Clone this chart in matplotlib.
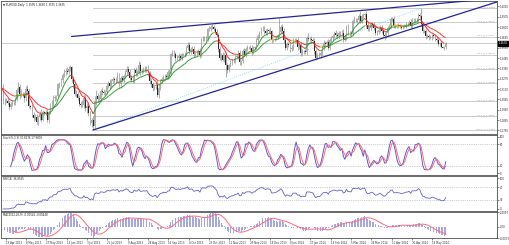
import numpy as np
import pandas as pd
import matplotlib
matplotlib.use('Agg')
import matplotlib.pyplot as plt
from matplotlib.collections import LineCollection

# daily closes, one line per week (EURUSD, 16 Apr 2013 - 30 May 2014)
close = [
    1.3185, 1.3045, 1.3050, 1.3050,
    1.3030, 1.2990, 1.3015, 1.3030, 1.3030,
    1.3070, 1.3165, 1.3190, 1.3125, 1.3115,
    1.3110, 1.3075, 1.3175, 1.3150, 1.2995,
    1.2985, 1.2910, 1.2880, 1.2890, 1.2835,
    1.2885, 1.2915, 1.2860, 1.2935, 1.2930,
    1.2935, 1.2860, 1.2940, 1.2995, 1.2995,
    1.3075, 1.3085, 1.3095, 1.3220, 1.3220,
    1.3260, 1.3315, 1.3340, 1.3350, 1.3345,
    1.3370, 1.3390, 1.3275, 1.3220, 1.3120,
    1.3125, 1.3080, 1.3020, 1.3010, 1.3010,
    1.3080, 1.2975, 1.2995, 1.2925, 1.2830,
    1.2860, 1.2800, 1.3040, 1.3100, 1.3070,
    1.3070, 1.3155, 1.3140, 1.3130, 1.3140,
    1.3205, 1.3230, 1.3205, 1.3250, 1.3275,
    1.3260, 1.3265, 1.3300, 1.3220, 1.3285,
    1.3265, 1.3305, 1.3345, 1.3375, 1.3345,
    1.3285, 1.3265, 1.3260, 1.3365, 1.3330,
    1.3340, 1.3415, 1.3350, 1.3355, 1.3375,
    1.3365, 1.3390, 1.3330, 1.3255, 1.3220,
    1.3180, 1.3200, 1.3215, 1.3110, 1.3180,
    1.3255, 1.3270, 1.3300, 1.3300, 1.3295,
    1.3345, 1.3360, 1.3525, 1.3545, 1.3525,
    1.3485, 1.3485, 1.3510, 1.3490, 1.3525,
    1.3525, 1.3530, 1.3585, 1.3615, 1.3555,
    1.3580, 1.3575, 1.3525, 1.3540, 1.3545,
    1.3560, 1.3515, 1.3675, 1.3685, 1.3685,
    1.3680, 1.3780, 1.3780, 1.3800, 1.3800,
    1.3780, 1.3745, 1.3715, 1.3580, 1.3485,
    1.3515, 1.3470, 1.3520, 1.3415, 1.3365,
    1.3410, 1.3435, 1.3455, 1.3460, 1.3495,
    1.3505, 1.3540, 1.3440, 1.3450, 1.3560,
    1.3520, 1.3575, 1.3590, 1.3590, 1.3590,
    1.3545, 1.3590, 1.3595, 1.3665, 1.3705,
    1.3745, 1.3780, 1.3780, 1.3755, 1.3740,
    1.3765, 1.3760, 1.3755, 1.3665, 1.3670,
    1.3675, 1.3690, 1.3715, 1.3745,
    1.3800, 1.3760, 1.3670, 1.3590,
    1.3630, 1.3615, 1.3575, 1.3590, 1.3670,
    1.3670, 1.3670, 1.3600, 1.3615, 1.3540,
    1.3555, 1.3555, 1.3545, 1.3685, 1.3680,
    1.3680, 1.3665, 1.3655, 1.3560, 1.3485,
    1.3520, 1.3515, 1.3535, 1.3595, 1.3635,
    1.3630, 1.3645, 1.3590, 1.3670, 1.3690,
    1.3710, 1.3735, 1.3720, 1.3710, 1.3740,
    1.3735, 1.3740, 1.3675, 1.3695, 1.3800,
    1.3735, 1.3740, 1.3730, 1.3865, 1.3875,
    1.3870, 1.3870, 1.3910, 1.3865, 1.3910,
    1.3925, 1.3930, 1.3825, 1.3780, 1.3795,
    1.3830, 1.3825, 1.3790, 1.3740, 1.3750,
    1.3770, 1.3795, 1.3760, 1.3720, 1.3705,
    1.3735, 1.3795, 1.3815, 1.3885, 1.3885,
    1.3815, 1.3815, 1.3820, 1.3815, 1.3810,
    1.3795, 1.3805, 1.3815, 1.3830, 1.3830,
    1.3850, 1.3810, 1.3870, 1.3870, 1.3870,
    1.3875, 1.3925, 1.3910, 1.3830, 1.3760,
    1.3760, 1.3705, 1.3710, 1.3695, 1.3695,
    1.3715, 1.3705, 1.3680, 1.3670, 1.3630,
    1.3635, 1.3595, 1.3590, 1.3595, 1.3635,
]

# upper / lower shadows in pips
wick_up = [
    20, 35, 25, 30,
    30, 25, 20, 25, 20,
    15, 20, 50, 30, 45,
    25, 30, 25, 40, 20,
    15, 30, 25, 30, 25,
    25, 30, 55, 20, 15,
    20, 30, 15, 35, 65,
    30, 25, 20, 15, 25,
    20, 15, 30, 35, 40,
    30, 25, 15, 25, 30,
    35, 25, 30, 25, 50,
    25, 45, 35, 40, 25,
    20, 35, 60, 65, 30,
    35, 15, 35, 30, 25,
    30, 20, 40, 25, 20,
    20, 25, 45, 35, 15,
    30, 20, 15, 25, 25,
    30, 25, 30, 15, 30,
    25, 35, 30, 20, 20,
    30, 15, 20, 25, 25,
    20, 25, 20, 45, 40,
    15, 20, 15, 20, 25,
    20, 15, 15, 25, 20,
    25, 30, 25, 20, 15,
    15, 20, 20, 30, 35,
    15, 25, 30, 20, 25,
    20, 30, 15, 20, 20,
    25, 15, 30, 20, 32,
    20, 25, 30, 25, 30,
    25, 30, 20, 25, 20,
    15, 35, 20, 25, 20,
    15, 30, 25, 20, 15,
    25, 20, 30, 20, 25,
    30, 20, 15, 20, 20,
    15, 20, 30, 30, 25,
    25, 15, 45, 15, 20,
    15, 15, 10, 147,
    25, 35, 30, 25,
    20, 20, 25, 25, 20,
    20, 20, 25, 25, 20,
    25, 15, 20, 20, 55,
    20, 30, 20, 30, 15,
    20, 25, 20, 25, 35,
    20, 25, 30, 15, 20,
    20, 25, 30, 25, 20,
    20, 25, 35, 25, 25,
    30, 20, 20, 15, 40,
    20, 25, 25, 57, 20,
    20, 15, 30, 25, 20,
    20, 25, 25, 30, 20,
    20, 25, 25, 20, 30,
    20, 20, 15, 20, 20,
    25, 20, 15, 25, 15,
    15, 20, 15, 20, 20,
    25, 30, 20, 25, 20,
    15, 20, 20, 83, 25,
    20, 20, 20, 20, 20,
    15, 15, 20, 20, 15,
    15, 20, 15, 15, 15,
]
wick_dn = [
    25, 30, 35, 20,
    20, 30, 25, 20, 25,
    20, 25, 20, 55, 30,
    25, 35, 30, 25, 15,
    20, 25, 30, 20, 20,
    30, 25, 20, 15, 25,
    25, 20, 30, 25, 35,
    20, 30, 25, 20, 40,
    20, 25, 20, 30, 25,
    25, 20, 30, 35, 20,
    30, 25, 20, 30, 20,
    30, 25, 50, 25, 20,
    40, 45, 20, 35, 30,
    25, 35, 30, 20, 25,
    20, 25, 30, 25, 20,
    25, 25, 20, 25, 35,
    20, 25, 20, 30, 20,
    25, 20, 25, 30, 25,
    25, 20, 35, 25, 20,
    20, 25, 30, 30, 25,
    25, 20, 25, 20, 35,
    20, 25, 20, 25, 20,
    25, 20, 40, 20, 25,
    25, 20, 30, 20, 25,
    20, 25, 20, 15, 25,
    25, 20, 30, 25, 20,
    25, 30, 20, 20, 25,
    20, 25, 20, 25, 20,
    25, 20, 20, 30, 20,
    25, 20, 25, 120, 30,
    25, 20, 25, 20, 25,
    20, 25, 30, 25, 20,
    20, 25, 20, 15, 20,
    25, 20, 25, 20, 25,
    20, 25, 20, 25, 20,
    20, 25, 20, 30, 15,
    15, 10, 10, 20,
    20, 25, 30, 25,
    25, 20, 30, 20, 25,
    20, 25, 30, 20, 30,
    20, 25, 20, 25, 20,
    20, 25, 20, 30, 20,
    8, 20, 25, 20, 25,
    20, 25, 25, 20, 25,
    20, 20, 25, 25, 20,
    25, 20, 25, 20, 25,
    20, 25, 20, 25, 20,
    20, 25, 20, 20, 25,
    20, 25, 20, 25, 20,
    25, 20, 25, 25, 20,
    20, 25, 20, 25, 33,
    20, 25, 20, 25, 25,
    20, 25, 20, 25, 20,
    20, 15, 20, 25, 20,
    20, 25, 20, 25, 25,
    25, 25, 20, 20, 25,
    20, 25, 20, 25, 20,
    25, 20, 25, 20, 25,
    20, 8, 8, 20, 20,
]

holidays = ['2013-12-25', '2014-01-01']
date_labels = ['19 Apr 2013', '8 May 2013', '27 May 2013', '14 Jun 2013', '3 Jul 2013',
               '22 Jul 2013', '9 Aug 2013', '28 Aug 2013', '16 Sep 2013', '4 Oct 2013',
               '23 Oct 2013', '11 Nov 2013', '29 Nov 2013', '18 Dec 2013', '8 Jan 2014',
               '27 Jan 2014', '14 Feb 2014', '5 Mar 2014', '24 Mar 2014', '11 Apr 2014',
               '30 Apr 2014', '19 May 2014']

# fibo from the July 2013 low to the May 2014 high
fib_low = ('2013-07-09', 1.2755)
fib_high = ('2014-05-08', 1.3993)
fib_levels = [0.0, 11.8, 23.6, 38.2, 50.0, 61.8, 76.4, 88.6, 100.0]
# trend lines (anchor date, price)
tl_lower = [('2013-07-09', 1.2755), ('2014-02-03', 1.3477)]
tl_upper = [('2013-10-25', 1.3832), ('2014-03-13', 1.3967)]
tl_upper_start = '2013-06-19'

price_ticks = [1.2750, 1.2855, 1.2960, 1.3065, 1.3170, 1.3275, 1.3380, 1.3485,
               1.3590, 1.3695, 1.3800, 1.3905, 1.4010]

dates = pd.bdate_range('2013-04-16', '2014-05-30')
dates = dates[~dates.isin(pd.to_datetime(holidays))]
n = len(close)
assert len(dates) == n == len(wick_up) == len(wick_dn)
x = np.arange(n)


def idx(d):
    return dates.get_loc(pd.Timestamp(d))


c = np.array(close)
o = np.r_[c[0], c[:-1]]
hi = np.maximum(o, c) + np.array(wick_up) / 10000
lo = np.minimum(o, c) - np.array(wick_dn) / 10000
cs = pd.Series(c)

# indicators
ma_fast = cs.ewm(span=8, adjust=False).mean()
ma_slow = cs.ewm(span=21, adjust=False).mean()
hh = pd.Series(hi).rolling(5).max()
ll = pd.Series(lo).rolling(5).min()
st_k = 100 * (cs - ll).rolling(3).sum() / (hh - ll).rolling(3).sum()
st_d = st_k.rolling(3).mean()
delta = cs.diff()
ag = delta.clip(lower=0).ewm(alpha=1 / 14, adjust=False).mean()
al = (-delta.clip(upper=0)).ewm(alpha=1 / 14, adjust=False).mean()
rsi = 100 - 100 / (1 + ag / al)
macd = cs.ewm(span=12, adjust=False).mean() - cs.ewm(span=26, adjust=False).mean()
macd_sig = macd.rolling(9).mean()

W, H = 510, 245
FS = 1.9
XL = (-0.3, 324.6)
fig = plt.figure(figsize=(W / 100, H / 100), dpi=100)


def panel(top, bottom):
    a = fig.add_axes([1 / W, 1 - bottom / H, 496 / W, (bottom - top) / H])
    a.set_xlim(*XL)
    a.yaxis.tick_right()
    a.tick_params(axis='y', labelsize=FS, length=1.2, width=0.4, pad=0.6, colors='#303030')
    a.tick_params(axis='x', bottom=False, labelbottom=False)
    for s in a.spines.values():
        s.set_linewidth(0.6)
        s.set_color('#505050')
    return a


ax = panel(1, 134)
ax_st = panel(135, 175)
ax_rsi = panel(176, 211)
ax_md = panel(212, 238)

# ---- main chart ----
ax.set_ylim(1.27141, 1.40640)
ax.set_yticks(price_ticks)
ax.set_yticklabels(['%.4f' % t for t in price_ticks])

ax.axhline(c[-1], color='#b8b8b8', lw=0.5, zorder=1)
x_lo, x_hi = idx(fib_low[0]), idx(fib_high[0])
for lv in fib_levels:
    p = fib_high[1] - (fib_high[1] - fib_low[1]) * lv / 100
    ax.plot([x_lo, XL[1]], [p, p], color='#c4c4c4', lw=0.6, zorder=1)
    ax.text(XL[1] - 1.5, p + 0.0003, '%.1f @ %.4f' % (lv, p), fontsize=FS - 0.2,
            color='#8a8aa8', ha='right', va='bottom')
ax.plot([x_lo, x_hi], [fib_low[1], fib_high[1]], color='#6fd8f0', lw=0.6, ls=':', zorder=2)

ax.vlines(x, lo, hi, color='#858585', lw=0.45, zorder=3)
up = c >= o
ax.bar(x[up], (c - o)[up], bottom=o[up], width=0.6, color='#ababab', zorder=3)
ax.bar(x[~up], (c - o)[~up], bottom=o[~up], width=0.6, color='#262626', zorder=3)


def colored(series, lw):
    v = series.values
    pts = np.column_stack([x, v])
    segs = np.stack([pts[:-1], pts[1:]], axis=1)
    sl = np.diff(v)
    cols = np.where(sl > 0.00012, '#2f9a2f', np.where(sl < -0.00012, '#ff2a2a', '#e6c200'))
    ax.add_collection(LineCollection(segs, colors=cols, linewidths=lw, zorder=4))


colored(ma_slow, 0.7)
colored(ma_fast, 0.7)

for pts, start in ((tl_lower, None), (tl_upper, tl_upper_start)):
    (d1, p1), (d2, p2) = pts
    i1, i2 = idx(d1), idx(d2)
    k = (p2 - p1) / (i2 - i1)
    xs = idx(start) if start else i1
    ax.plot([xs, XL[1]], [p1 + (xs - i1) * k, p1 + (XL[1] - i1) * k],
            color='#24249a', lw=0.9, zorder=5)

ax.annotate('%.4f' % c[-1], xy=(1.0, c[-1]), xycoords=('axes fraction', 'data'),
            xytext=(1.0, 0), textcoords='offset points', fontsize=FS, color='white',
            va='center', ha='left',
            bbox=dict(boxstyle='square,pad=0.15', fc='black', ec='black'))
ax.text(0.004, 0.985, '\u25bc EURUSD,Daily  %.4f %.4f %.4f %.4f' % (o[-1], hi[-1], lo[-1], c[-1]),
        transform=ax.transAxes, fontsize=FS, color='#202020', va='top', ha='left')

# ---- stochastic ----
ax_st.set_ylim(-5.5, 105.5)
ax_st.set_yticks([0, 20, 80, 100])
for lv in (20, 80):
    ax_st.axhline(lv, color='#a0a0a0', lw=0.5, ls=':')
ax_st.plot(x, st_k, color='#5a5ad2', lw=0.7)
ax_st.plot(x, st_d, color='#ff6a78', lw=0.7)
ax_st.text(0.004, 0.97, 'Stoch(5,3,3) %.4f %.4f' % (st_k.iloc[-1], st_d.iloc[-1]),
           transform=ax_st.transAxes, fontsize=FS, color='#202020', va='top')

# ---- RSI ----
ax_rsi.set_ylim(-6.5, 106.5)
ax_rsi.set_yticks([0, 30, 70, 100])
for lv in (30, 70):
    ax_rsi.axhline(lv, color='#a0a0a0', lw=0.5, ls=':')
ax_rsi.plot(x, rsi, color='#6060cc', lw=0.6)
ax_rsi.text(0.004, 0.97, 'RSI(14) %.4f' % rsi.iloc[-1],
            transform=ax_rsi.transAxes, fontsize=FS, color='#202020', va='top')

# ---- MACD ----
mx, mn = np.nanmax(np.r_[macd, macd_sig]), np.nanmin(np.r_[macd, macd_sig])
ax_md.set_ylim(mn, mx)
ax_md.set_yticks([mn, 0, mx])
ax_md.set_yticklabels(['%.4f' % mn, '0.00', '%.4f' % mx])
ax_md.bar(x, macd, width=0.6, color='#a8a8e0')
ax_md.plot(x, macd_sig, color='#ff6a78', lw=0.7)
ax_md.text(0.004, 0.96, 'MACD(12,26,9) %.5f %.5f' % (macd.iloc[-1], macd_sig.iloc[-1]),
           transform=ax_md.transAxes, fontsize=FS, color='#202020', va='top')

ticks = [idx(pd.to_datetime(s, format='%d %b %Y')) for s in date_labels]
ax_md.set_xticks(ticks)
ax_md.set_xticklabels(date_labels, ha='left')
ax_md.tick_params(axis='x', bottom=True, labelbottom=True, labelsize=FS, length=1.2,
                  width=0.4, pad=0.6, colors='#303030')

fig.savefig('out.png', dpi=100)
